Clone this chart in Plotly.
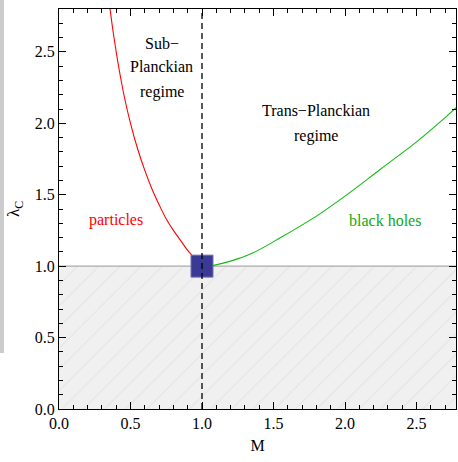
import plotly.graph_objects as go

# data
red_M = [0.357, 0.38, 0.42, 0.46, 0.5, 0.55, 0.6, 0.65, 0.7, 0.75, 0.8, 0.85, 0.9, 0.93]
red_L = [2.80, 2.63, 2.38, 2.17, 2.00, 1.82, 1.67, 1.54, 1.43, 1.33, 1.25, 1.18, 1.11, 1.075]
green_M = [1.06, 1.2, 1.35, 1.55, 1.8, 2.0, 2.25, 2.5, 2.7, 2.8]
green_L = [1.00, 1.035, 1.09, 1.20, 1.35, 1.49, 1.68, 1.87, 2.04, 2.13]
shade_M = [0.0, 2.8]
shade_L = [1.0, 1.0]
planck_M = [1.0]
planck_L = [1.0]
xticks = [0.0, 0.5, 1.0, 1.5, 2.0, 2.5]
yticks = [0.0, 0.5, 1.0, 1.5, 2.0, 2.5]

FONT = "Liberation Serif"

fig = go.Figure()
fig.add_trace(go.Scatter(x=shade_M, y=shade_L, mode="lines", fill="tozeroy",
                         line=dict(color="#aaaaaa", width=1.2),
                         fillcolor="#f0f0f0",
                         fillpattern=dict(shape="/", size=15, solidity=0.07,
                                          fgcolor="#d6d6d6", bgcolor="#f0f0f0"),
                         hoverinfo="skip"))
fig.add_trace(go.Scatter(x=red_M, y=red_L, mode="lines", line=dict(color="#ff0000", width=1.1, shape="spline")))
fig.add_trace(go.Scatter(x=green_M, y=green_L, mode="lines", line=dict(color="#11bb11", width=1.1, shape="spline")))
fig.add_trace(go.Scatter(x=planck_M, y=planck_L, mode="markers",
                         marker=dict(symbol="square", size=22, color="#3a3a94",
                                     line=dict(color="#7070b8", width=1))))
fig.add_trace(go.Scatter(x=[1, 1], y=[0, 2.8], mode="lines",
                         line=dict(color="black", width=1.3, dash="6px,4px")))

anns = [
    dict(x=0.72, y=2.56, text="Sub\u2212", color="black"),
    dict(x=0.72, y=2.40, text="Planckian", color="black"),
    dict(x=0.72, y=2.22, text="regime", color="black"),
    dict(x=1.80, y=2.09, text="Trans\u2212Planckian", color="black"),
    dict(x=1.80, y=1.91, text="regime", color="black"),
    dict(x=0.40, y=1.32, text="particles", color="#ff0000"),
    dict(x=2.28, y=1.32, text="black holes", color="#11aa11"),
]
for a in anns:
    fig.add_annotation(x=a["x"], y=a["y"], text=a["text"], showarrow=False,
                       font=dict(family=FONT, size=16, color=a["color"]))

axis_common = dict(showline=True, linecolor="black", linewidth=1, mirror="ticks",
                   ticks="inside", ticklen=7, tickcolor="black", tickwidth=1,
                   showgrid=False, zeroline=False,
                   tickfont=dict(family=FONT, size=16, color="black"),
                   minor=dict(ticks="inside", ticklen=4, dtick=0.1, tickcolor="black", showgrid=False))

fig.update_xaxes(range=[0, 2.776], tickvals=xticks, ticktext=[f"{v:.1f}" for v in xticks],
                 title=dict(text="M", font=dict(family=FONT, size=16, color="black"), standoff=8),
                 **axis_common)
fig.update_yaxes(range=[0, 2.8], tickvals=yticks, ticktext=[f"{v:.1f}" for v in yticks],
                 title=dict(text="\u03bb<sub>C</sub>", font=dict(family=FONT, size=17, color="black"), standoff=10),
                 **axis_common)

fig.add_shape(type="rect", xref="paper", yref="paper", x0=-59/397, x1=-55/397,
              y0=(400 - 345 + 9) / 400 - 0.02, y1=1 + 9/400, fillcolor="#cccccc", line=dict(width=0), layer="below")

fig.update_layout(width=458, height=462, margin=dict(l=59, r=2, t=9, b=53),
                  plot_bgcolor="white", paper_bgcolor="white", showlegend=False)

fig.write_html("out.html")
